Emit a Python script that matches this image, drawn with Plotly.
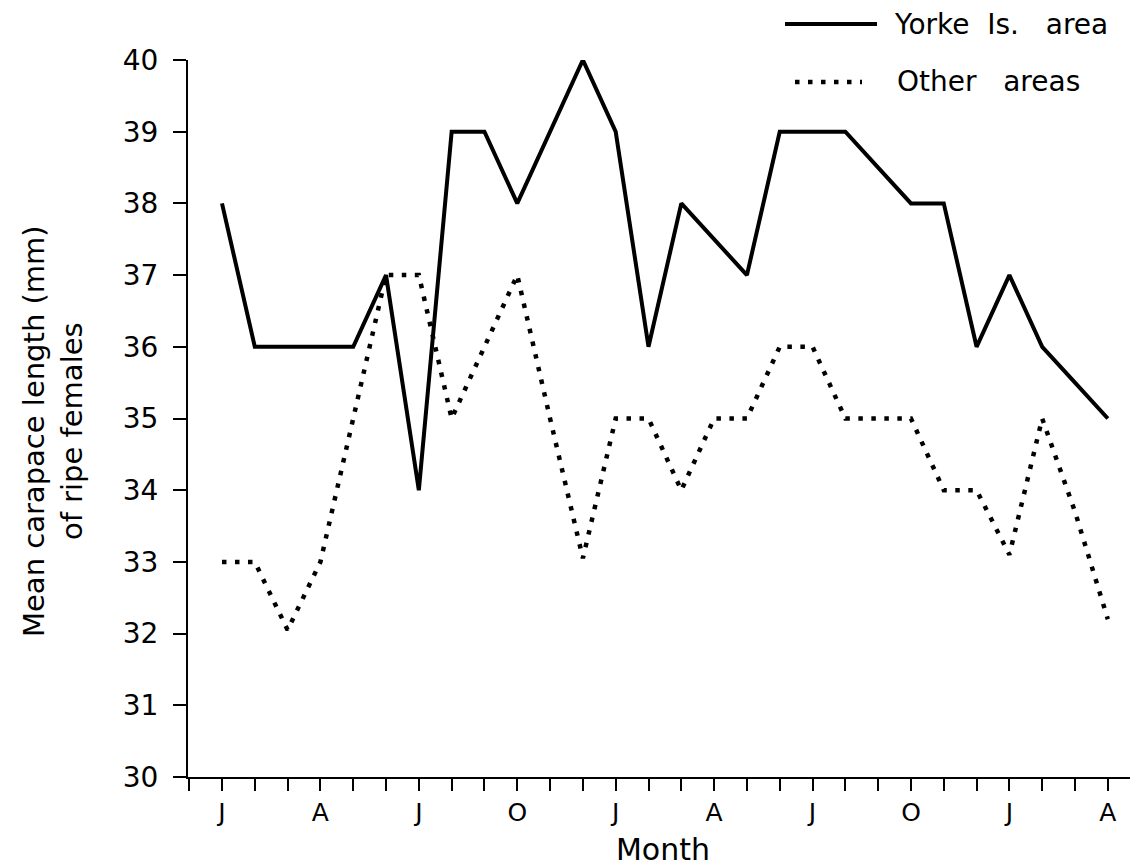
import plotly.graph_objects as go

months = list(range(28))
tick_vals = list(range(-1, 28))
tick_text = ["" for _ in tick_vals]
label_months = [0, 3, 6, 9, 12, 15, 18, 21, 24, 27]
label_names = ["J", "A", "J", "O", "J", "A", "J", "O", "J", "A"]
for m, n in zip(label_months, label_names):
    tick_text[tick_vals.index(m)] = n

yorke = [38, 36, 36, 36, 36, 37, 34, 39, 39, 38, 39, 40, 39, 36, 38, 37.5,
         37, 39, 39, 39, 38.5, 38, 38, 36, 37, 36, 35.5, 35]
other = [33, 33, 32.05, 33, 35, 37, 37, 35, 36, 37, 35, 33.05, 35, 35, 34, 35,
         35, 36, 36, 35, 35, 35, 34, 34, 33.1, 35, 33.7, 32.2]

y_ticks = list(range(30, 41))

FONT = "DejaVu Sans"
OFF = 8  # default page body margin

fig = go.Figure()
fig.add_trace(go.Scatter(x=months, y=yorke, mode="lines", name="Yorke Is. area",
                         line=dict(color="black", width=4), showlegend=False))
fig.add_trace(go.Scatter(x=months, y=other, mode="lines", name="Other areas",
                         line=dict(color="black", width=4.5, dash="4.5px,8.5px"),
                         showlegend=False))

# plot area in page pixels
L, R = 188, 1138
T, B = 60, 777
def px(x):
    return (x - L) / (R - L)
def py(y):
    return (B - y) / (B - T)

fig.add_shape(type="line", xref="paper", yref="paper", x0=px(785), x1=px(877),
              y0=py(24), y1=py(24), line=dict(color="black", width=4))
fig.add_shape(type="line", xref="paper", yref="paper", x0=px(795), x1=px(862),
              y0=py(82), y1=py(82), line=dict(color="black", width=4.5, dash="4.5px,8.5px"))
fig.add_annotation(xref="paper", yref="paper", x=px(892), y=py(24), xanchor="left",
                   yanchor="middle", text="Yorke  Is.   area", showarrow=False,
                   font=dict(family=FONT, size=28, color="black"))
fig.add_annotation(xref="paper", yref="paper", x=px(895), y=py(81), xanchor="left",
                   yanchor="middle", text="Other   areas", showarrow=False,
                   font=dict(family=FONT, size=28, color="black"))

fig.add_annotation(xref="paper", yref="paper", x=px(53), y=py(431), xanchor="center",
                   yanchor="middle", textangle=-90,
                   text="Mean carapace length (mm)<br>of ripe females", showarrow=False,
                   font=dict(family=FONT, size=29, color="black"))

W, H = 1138 - OFF, 867 - OFF
fig.update_layout(
    width=W, height=H,
    margin=dict(l=L - OFF, r=OFF + W - R, t=T - OFF, b=OFF + H - B),
    paper_bgcolor="white", plot_bgcolor="white",
    font=dict(family=FONT, color="black"),
    xaxis=dict(range=[-1.036, 27.92], tickmode="array", tickvals=tick_vals,
               ticktext=tick_text, ticks="outside", ticklen=12, tickwidth=1.5,
               tickcolor="black", showline=True, linecolor="black", linewidth=2,
               showgrid=False, zeroline=False, tickfont=dict(size=25, family=FONT),
               title=dict(text="Month", font=dict(size=30, family=FONT), standoff=13)),
    yaxis=dict(range=[30, 40], tickmode="array", tickvals=y_ticks,
               ticks="outside", ticklen=13, tickwidth=1.5, tickcolor="black",
               showline=True, linecolor="black", linewidth=2, showgrid=False,
               zeroline=False, tickfont=dict(size=28, family=FONT),
               ticklabelstandoff=9),
)

fig.write_html("out.html")
